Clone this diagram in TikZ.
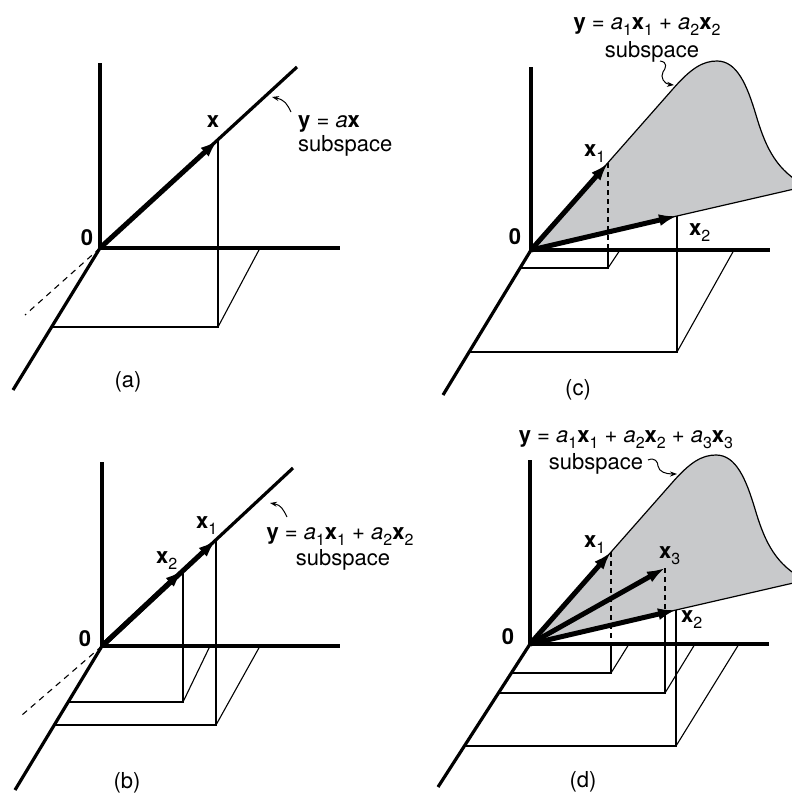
\documentclass[tikz,border=0pt]{standalone}
\usepackage{fontspec}
\setmainfont{TeX Gyre Heros}
\usetikzlibrary{arrows.meta}
\definecolor{surf}{RGB}{200,201,203}
\newcommand{\lbfont}{\fontsize{22}{26}\selectfont}
\newcommand{\sbx}[1]{\raisebox{-6pt}[0pt][0pt]{\fontsize{16}{16}\selectfont #1}}
\newcommand{\bx}{\textbf{x}}
\newcommand{\surfpath}{(0,0) -- (141,-160) .. controls (160,-182) and (172,-189) .. (186,-189) .. controls (206,-189) and (216,-165) .. (225,-135) .. controls (233,-108) and (243,-82) .. (270,-67)}
\tikzset{
  axis/.style={line width=3.2pt},
  fline/.style={line width=1.1pt},
  vec/.style={line width=5pt, -{Latex[length=18pt,width=12pt]}},
  dsh/.style={line width=1.1pt, dash pattern=on 6pt off 5pt},
  ptr/.style={line width=1pt, -{Stealth[length=7pt,width=5pt]}},
  lbl/.style={font=\lbfont, inner sep=0pt},
  surfline/.style={line width=1.2pt}
}
\begin{document}
\begin{tikzpicture}[x=1pt,y=-1pt]
\useasboundingbox (0,0) rectangle (792,798);

% ================= panel (a) =================
\coordinate (aO) at (100,248);
\coordinate (aV) at (100,63);
\coordinate (aH) at (340,248);
\coordinate (aD) at (13,390);
\coordinate (aDs) at (25,315);
\coordinate (aL) at (297,67);
\coordinate (aX) at (218,140);
\coordinate (aF) at (218,327);
\coordinate (aFl) at (52,327);
\coordinate (aFr) at (260,248);
\draw[dsh] (aO) -- (aDs);
\draw[fline] (aX) -- (aF) -- (aFl);
\draw[fline] (aF) -- (aFr);
\draw[axis] (aO) -- (aV);
\draw[axis] (aO) -- (aH);
\draw[axis] (aO) -- (aD);
\draw[axis] (aO) -- (aL);
\draw[vec] (aO) -- (aX);
\node[lbl] (aXl) at (213,122) {\bx};
\node[lbl] (aZ) at (87,238) {\textbf{0}};
\node[lbl, anchor=base west] (aT1) at (298,127) {\textbf{y} = \textit{a}\bx};
\node[lbl, anchor=base west] (aT2) at (298,151) {subspace};
\coordinate (aP1) at (291,112);
\coordinate (aP2) at (272,97);
\draw[ptr] (aP1) .. controls (287,104) and (285,100) .. (aP2);
\node[lbl] (aCap) at (128,382) {(a)};

% ================= panel (b) =================
\coordinate (bO) at (102,646);
\coordinate (bV) at (102,462);
\coordinate (bH) at (340,646);
\coordinate (bD) at (15,790);
\coordinate (bDs) at (22,715);
\coordinate (bL) at (293,468);
\coordinate (bX1) at (216,540);
\coordinate (bX2) at (183,570);
\coordinate (bF2) at (183,702);
\coordinate (bF2l) at (68,702);
\coordinate (bF2r) at (210,646);
\coordinate (bF1) at (216,725);
\coordinate (bF1l) at (54,725);
\coordinate (bF1r) at (260,646);
\draw[dsh] (bO) -- (bDs);
\draw[fline] (bX2) -- (bF2) -- (bF2l);
\draw[fline] (bF2) -- (bF2r);
\draw[fline] (bX1) -- (bF1) -- (bF1l);
\draw[fline] (bF1) -- (bF1r);
\draw[axis] (bO) -- (bV);
\draw[axis] (bO) -- (bH);
\draw[axis] (bO) -- (bD);
\draw[axis] (bO) -- (bL);
\draw[vec] (bO) -- (bX1);
\draw[vec] (bO) -- (bX2);
\node[lbl, anchor=base west] (bX1l) at (196,528) {\bx\sbx{1}};
\node[lbl, anchor=base west] (bX2l) at (156,563) {\bx\sbx{2}};
\node[lbl] (bZ) at (85,639) {\textbf{0}};
\node[lbl, anchor=base] (bT1) at (340,539) {\textbf{y} = \textit{a}\sbx{1}\bx\sbx{1} + \textit{a}\sbx{2}\bx\sbx{2}};
\node[lbl, anchor=base] (bT2) at (343,565) {subspace};
\coordinate (bP1) at (287,517);
\coordinate (bP2) at (270,503);
\draw[ptr] (bP1) .. controls (283,509) and (281,505) .. (bP2);
\node[lbl] (bCap) at (127,783) {(b)};

% ================= panel (c) =================
\coordinate (cO) at (531,250);
\coordinate (cV) at (531,67);
\coordinate (cH) at (770,250);
\coordinate (cD) at (443,395);
\coordinate (cX1) at (608,163);
\coordinate (cX1a) at (608,250);
\coordinate (cF1) at (608,268);
\coordinate (cF1l) at (520,268);
\coordinate (cF1r) at (620,250);
\coordinate (cX2) at (677,216);
\coordinate (cF2) at (677,352);
\coordinate (cF2l) at (470,352);
\coordinate (cF2r) at (734,250);
\begin{scope}
\clip (0,0) rectangle (792,798);
\begin{scope}[shift={(cO)}]
\fill[surf] \surfpath -- (300,-70) -- (300,-55) -- (270,-63) -- (146,-34) -- cycle;
\draw[surfline] \surfpath;
\draw[surfline] (0,0) -- (146,-34) -- (272,-63);
\end{scope}
\end{scope}
\draw[fline, dash pattern=on 5pt off 4pt] (cX1) -- (cX1a);
\draw[fline] (cX1a) -- (cF1) -- (cF1l);
\draw[fline] (cF1) -- (cF1r);
\draw[fline] (cX2) -- (cF2) -- (cF2l);
\draw[fline] (cF2) -- (cF2r);
\draw[axis] (cO) -- (cV);
\draw[axis] (cO) -- (cH);
\draw[axis] (cO) -- (cD);
\draw[vec] (cO) -- (cX1);
\draw[vec] (cO) -- (cX2);
\node[lbl, anchor=base west] (cX1l) at (584,156) {\bx\sbx{1}};
\node[lbl, anchor=base west] (cX2l) at (689,235) {\bx\sbx{2}};
\node[lbl] (cZ) at (515,237) {\textbf{0}};
\node[lbl, anchor=base] (cT1) at (647,29) {\textbf{y} = \textit{a}\sbx{1}\bx\sbx{1} + \textit{a}\sbx{2}\bx\sbx{2}};
\node[lbl, anchor=base] (cT2) at (652,57) {subspace};
\coordinate (cP1) at (660,61);
\coordinate (cP2) at (674,85);
\draw[ptr] (cP1) .. controls (668,62) and (666,68) .. (663,72) .. controls (660,77) and (664,84) .. (cP2);
\node[lbl] (cCap) at (578,390) {(c)};

% ================= panel (d) =================
\coordinate (dO) at (530,644);
\coordinate (dV) at (530,460);
\coordinate (dH) at (769,644);
\coordinate (dD) at (438,787);
\coordinate (dX1) at (611,552);
\coordinate (dX1a) at (611,644);
\coordinate (dF1) at (611,673);
\coordinate (dF1l) at (512,673);
\coordinate (dF1r) at (629,644);
\coordinate (dX3) at (665,568);
\coordinate (dX3a) at (665,612);
\coordinate (dF3) at (665,693);
\coordinate (dF3l) at (500,693);
\coordinate (dF3r) at (695,644);
\coordinate (dX2) at (676,610);
\coordinate (dF2) at (676,746);
\coordinate (dF2l) at (465,746);
\coordinate (dF2r) at (739,644);
\begin{scope}
\clip (0,0) rectangle (792,798);
\begin{scope}[shift={(dO)}]
\fill[surf] \surfpath -- (300,-70) -- (300,-55) -- (270,-63) -- (146,-34) -- cycle;
\draw[surfline] \surfpath;
\draw[surfline] (0,0) -- (146,-34) -- (272,-63);
\end{scope}
\end{scope}
\draw[fline, dash pattern=on 5pt off 4pt] (dX1) -- (dX1a);
\draw[fline] (dX1a) -- (dF1) -- (dF1l);
\draw[fline] (dF1) -- (dF1r);
\draw[fline, dash pattern=on 5pt off 4pt] (dX3) -- (dX3a);
\draw[fline] (dX3a) -- (dF3) -- (dF3l);
\draw[fline] (dF3) -- (dF3r);
\draw[fline] (dX2) -- (dF2) -- (dF2l);
\draw[fline] (dF2) -- (dF2r);
\draw[axis] (dO) -- (dV);
\draw[axis] (dO) -- (dH);
\draw[axis] (dO) -- (dD);
\draw[vec] (dO) -- (dX1);
\draw[vec] (dO) -- (dX3);
\draw[vec] (dO) -- (dX2);
\node[lbl, anchor=base west] (dX1l) at (584,547) {\bx\sbx{1}};
\node[lbl, anchor=base west] (dX3l) at (659,558) {\bx\sbx{3}};
\node[lbl, anchor=base west] (dX2l) at (681,622) {\bx\sbx{2}};
\node[lbl] (dZ) at (508,637) {\textbf{0}};
\node[lbl, anchor=base] (dT1) at (626,442) {\textbf{y} = \textit{a}\sbx{1}\bx\sbx{1} + \textit{a}\sbx{2}\bx\sbx{2} + \textit{a}\sbx{3}\bx\sbx{3}};
\node[lbl, anchor=base] (dT2) at (596,469) {subspace};
\coordinate (dP1) at (648,460);
\coordinate (dP2) at (677,474);
\draw[ptr] (dP1) .. controls (655,457) and (658,462) .. (658,466) .. controls (659,472) and (666,474) .. (dP2);
\node[lbl] (dCap) at (583,782) {(d)};
\end{tikzpicture}
\end{document}
